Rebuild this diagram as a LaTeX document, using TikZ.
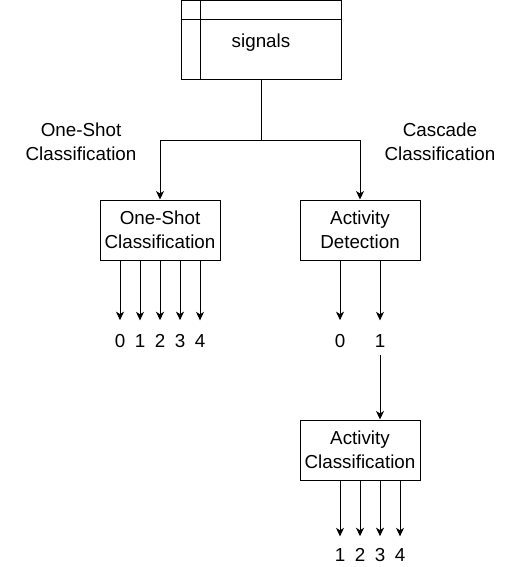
\documentclass[tikz,border=0pt]{standalone}
\usepackage{fontspec}
\setmainfont{Liberation Sans}
\usetikzlibrary{arrows.meta}
\begin{document}
\begin{tikzpicture}[x=1pt,y=-1pt,
  every node/.style={font=\fontsize{18.8}{24}\selectfont},
  line/.style={draw=black,line width=1pt},
  arr/.style={line,-{Stealth[length=8.5pt,width=8pt,inset=2.5pt]}},
  box/.style={draw=black,line width=1pt,minimum width=120pt,minimum height=60pt,inner sep=0pt,align=center},
  digit/.style={inner sep=0pt}]
\useasboundingbox (0,0) rectangle (521,567);
% top table box
\node[draw=black,line width=1pt,minimum width=160pt,minimum height=79.5pt,inner sep=0pt] (sig) at (261,40.25) {};
\draw[line] (sig.north west) ++(0,20) coordinate (hl) -- (hl -| sig.east);
\draw[line] (sig.north west) ++(19.5,0) coordinate (vt) -- (vt |- sig.south);
\node (sigtxt) at (261,43) {signals};
% side labels
\node[align=center] (lblos) at (81,142) {One-Shot\\Classification};
\node[align=center] (lblcc) at (440,142) {Cascade\\Classification};
% boxes
\node[box] (os) at (160,230) {One-Shot\\Classification};
\node[box] (ad) at (360,230) {Activity\\Detection};
\node[box] (ac) at (360,450) {Activity\\Classification};
% splitter
\draw[line] (sig.south) -- ++(0,60) coordinate (j);
\draw[arr] (j) -| (os.north);
\draw[arr] (j) -| (ad.north);
% one-shot outputs
\foreach \d/\x in {0/120,1/140,2/160,3/180,4/200}{
  \node[digit] (o\d) at (\x,341) {\d};
  \draw[arr,shorten >=14pt] (os.south -| o\d) -- (o\d.north);
}
% activity detection outputs
\node[digit] (a0) at (340,341) {0};
\node[digit] (a1) at (380,341) {1};
\draw[arr,shorten >=14pt] (ad.south -| a0) -- (a0.north);
\draw[arr,shorten >=14pt] (ad.south -| a1) -- (a1.north);
\draw[arr,shorten <=7pt] (a1.south) -- (a1.south |- ac.north);
% activity classification outputs
\foreach \d/\x in {1/340,2/360,3/380,4/400}{
  \node[digit] (c\d) at (\x,555) {\d};
  \draw[arr,shorten >=12pt] (ac.south -| c\d) -- (c\d.north);
}
\end{tikzpicture}
\end{document}
